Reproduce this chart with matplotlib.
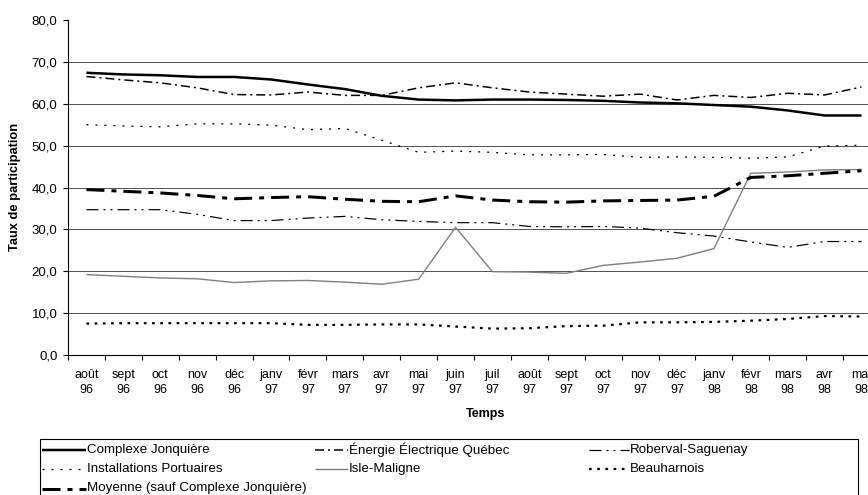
import matplotlib

matplotlib.use("Agg")
import matplotlib.pyplot as plt
from matplotlib.lines import Line2D
from matplotlib.patches import Rectangle

plt.rcParams["font.family"] = ["Liberation Sans", "DejaVu Sans"]
plt.rcParams["lines.scale_dashes"] = False

W, H = 868, 495

MONTHS = ["août", "sept", "oct", "nov", "déc", "janv", "févr", "mars", "avr", "mai",
          "juin", "juil", "août", "sept", "oct", "nov", "déc", "janv", "févr", "mars",
          "avr", "mai"]
YEARS = ["96"] * 5 + ["97"] * 12 + ["98"] * 5

jonquiere = [67.4, 67.0, 66.8, 66.4, 66.4, 65.8, 64.6, 63.5, 61.9, 61.0, 60.8,
             61.0, 61.0, 60.9, 60.7, 60.3, 60.1, 59.7, 59.3, 58.4, 57.2, 57.2]
energie = [66.5, 65.7, 65.0, 63.8, 62.2, 62.1, 62.8, 62.0, 62.0, 63.8, 65.0,
           63.8, 62.8, 62.3, 61.8, 62.3, 60.9, 62.0, 61.5, 62.5, 62.1, 64.0]
roberval = [34.7, 34.7, 34.7, 33.6, 32.1, 32.1, 32.7, 33.1, 32.3, 31.9, 31.6,
            31.6, 30.7, 30.6, 30.7, 30.3, 29.2, 28.4, 27.0, 25.7, 27.1, 27.1]
portuaires = [55.0, 54.7, 54.5, 55.2, 55.2, 54.9, 53.8, 54.1, 51.3, 48.4, 48.7,
              48.4, 47.8, 47.8, 47.9, 47.2, 47.3, 47.2, 47.0, 47.3, 49.9, 50.1]
isle_maligne = [19.2, 18.8, 18.4, 18.2, 17.3, 17.7, 17.8, 17.4, 16.9, 18.1, 30.5,
                19.9, 19.8, 19.5, 21.4, 22.2, 23.1, 25.4, 43.4, 43.7, 44.2, 44.3]
beauharnois = [7.5, 7.6, 7.6, 7.6, 7.6, 7.6, 7.2, 7.2, 7.3, 7.3, 6.8,
               6.3, 6.4, 6.9, 7.0, 7.8, 7.8, 7.9, 8.2, 8.6, 9.3, 9.2]
moyenne = [39.5, 39.1, 38.7, 38.1, 37.3, 37.6, 37.8, 37.2, 36.7, 36.6, 38.0,
           37.0, 36.6, 36.5, 36.8, 36.9, 37.0, 37.9, 42.4, 42.8, 43.4, 44.0]

px = 0.72  # points per pixel at 100 dpi
STYLES = {
    "Complexe Jonquière": dict(color="black", lw=2.5 * px),
    "Énergie Électrique Québec": dict(color="black", lw=1.5 * px,
                                      dashes=(9 * px, 4 * px, 2 * px, 4 * px)),
    "Roberval-Saguenay": dict(color="black", lw=1.2 * px,
                              dashes=(12 * px, 5 * px, 2 * px, 5 * px, 2 * px, 5 * px)),
    "Installations Portuaires": dict(color="black", lw=1.3 * px,
                                     dashes=(2 * px, 7 * px)),
    "Isle-Maligne": dict(color="#808080", lw=1.4 * px),
    "Beauharnois": dict(color="black", lw=2.2 * px, dashes=(2.7 * px, 5.5 * px)),
    "Moyenne (sauf Complexe Jonquière)": dict(color="black", lw=3 * px,
                                               dashes=(18 * px, 7 * px, 5 * px, 7 * px)),
}
SERIES = {
    "Complexe Jonquière": jonquiere,
    "Énergie Électrique Québec": energie,
    "Roberval-Saguenay": roberval,
    "Installations Portuaires": portuaires,
    "Isle-Maligne": isle_maligne,
    "Beauharnois": beauharnois,
    "Moyenne (sauf Complexe Jonquière)": moyenne,
}

fig = plt.figure(figsize=(W / 100, H / 100), dpi=100)
ax = fig.add_axes([68 / W, 1 - 355 / H, (880 - 68) / W, (355 - 20) / H])

x = range(len(MONTHS))
for name, vals in SERIES.items():
    ax.plot(x, vals, solid_capstyle="butt", **STYLES[name])

ax.set_xlim(-0.5, len(MONTHS) - 0.5)
ax.set_ylim(0, 80)
yt = list(range(0, 81, 10))
ax.set_yticks(yt, [f"{v:.1f}".replace(".", ",") for v in yt])
for v in yt[1:-1]:
    ax.axhline(v, color="#555555", lw=1.0 * px, zorder=0)

ax.set_xticks(list(x), [f"{m}\n{y}" for m, y in zip(MONTHS, YEARS)])
ax.set_xticks([i - 0.5 for i in range(len(MONTHS) + 1)], minor=True)
ax.tick_params(axis="x", which="major", length=0, pad=10, labelsize=9)
ax.tick_params(axis="x", which="minor", length=3.6, width=0.8, direction="out")
ax.tick_params(axis="y", length=3.6, width=0.8, direction="out", pad=4, labelsize=9.5)
for lbl in ax.get_xticklabels():
    lbl.set_linespacing(1.4)
for sp in ("top", "right"):
    ax.spines[sp].set_visible(False)
for sp in ("left", "bottom"):
    ax.spines[sp].set_linewidth(0.8)

fig.text(15 / W, 1 - 187 / H, "Taux de participation", rotation=90,
         ha="center", va="center", fontsize=9.3, fontweight="bold")
fig.text(486 / W, 1 - 414 / H, "Temps", ha="center", va="center",
         fontsize=9, fontweight="bold")

# legend box drawn by hand so the three columns sit at fixed offsets
fig.add_artist(Rectangle((40 / W, 1 - 505 / H), (858 - 40) / W, (505 - 439) / H,
                         transform=fig.transFigure, fill=False, lw=0.8,
                         edgecolor="black"))
cols = [(42, 86), (315, 348), (589, 629)]
rows = [449.5, 469.3, 488.5]
layout = [
    ("Complexe Jonquière", 0, 0), ("Énergie Électrique Québec", 1, 0),
    ("Roberval-Saguenay", 2, 0), ("Installations Portuaires", 0, 1),
    ("Isle-Maligne", 1, 1), ("Beauharnois", 2, 1),
    ("Moyenne (sauf Complexe Jonquière)", 0, 2),
]
for name, c, r in layout:
    x0, x1 = cols[c]
    yy = 1 - rows[r] / H
    fig.add_artist(Line2D([x0 / W, x1 / W], [yy, yy], transform=fig.transFigure,
                          solid_capstyle="butt", **STYLES[name]))
    fig.text((x1 + 1) / W, yy, name, ha="left", va="center", fontsize=9.6)

fig.savefig("out.png", dpi=100)
